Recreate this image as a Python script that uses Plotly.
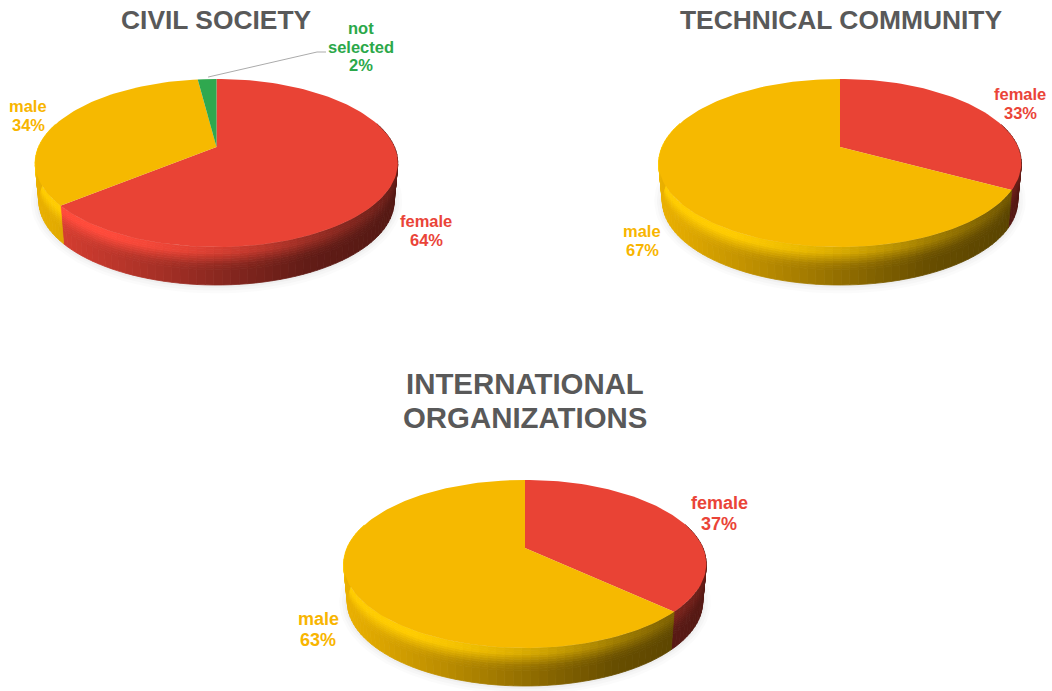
import numpy as np
import plotly.graph_objects as go

# ---- data ----
civil_labels = ["female", "male", "not selected"]
civil_values = [64, 34, 2]
technical_labels = ["female", "male"]
technical_values = [33, 67]
international_labels = ["female", "male"]
international_values = [37, 63]

# ---- styles / layout ----
W, H = 1052, 691
COLORS = {"female": "#E94335", "male": "#F6B900", "not selected": "#2FA84F"}
TEXT = {"female": "#EA4438", "male": "#F8B500", "not selected": "#2BA84A"}
TITLE_COLOR = "#595959"
A, B, K = 178.0, 81.0, 0.19   # perspective disc parameters
DEPTH = 38.0
N_STRIP = 160

pies = [
    dict(labels=civil_labels, values=civil_values, c=(216.5, 147),
         title=[("CIVIL SOCIETY", 216.5, 20, 26.4)],
         text={"not selected": (361, 28, 18.6, 16.5), "male": (28, 106, 19, 16.5), "female": (426, 221, 19, 16.5)}),
    dict(labels=technical_labels, values=technical_values, c=(840, 147),
         title=[("TECHNICAL COMMUNITY", 840.5, 20, 26.4)],
         text={"female": (1020, 94, 19, 16.5), "male": (642, 231, 19, 16.5)}),
    dict(labels=international_labels, values=international_values, c=(525, 548),
         title=[("INTERNATIONAL", 525, 383, 29.4), ("ORGANIZATIONS", 525, 417, 29.4)],
         text={"female": (719, 503, 20.5, 18), "male": (318, 619, 20.5, 18)}),
]


def project(c, theta, r=1.0, depth=0.0):
    """Clockwise angle from top on the disc -> picture position."""
    u, v = r * np.sin(theta), -r * np.cos(theta)
    w = 1 - K * v
    sc = 1 - 0.02 * depth / DEPTH
    return c[0] + sc * A * u / w, c[1] + B * v / w + depth


def hex_rgb(h):
    return np.array([int(h[i:i + 2], 16) for i in (1, 3, 5)], float)


def css(rgb):
    r = np.clip(np.round(rgb), 0, 255).astype(int)
    return f"rgb({r[0]},{r[1]},{r[2]})"


def shade(xn):
    return np.interp(xn, [0, .08, .3, .55, .75, 1], [.95, .9, .74, .56, .42, .36])


fig = go.Figure()


def poly(xs, ys, color, line=0.8):
    fig.add_trace(go.Scatter(x=list(xs), y=list(ys), mode="lines", fill="toself",
                             fillcolor=color, line=dict(color=color, width=line),
                             hoverinfo="skip", showlegend=False))


# vertical profile of the side wall: depth fractions and highlight strength
LAYERS = np.r_[np.linspace(0, .6, 11), 1]
GLOW = np.interp((LAYERS[:-1] + LAYERS[1:]) / 2, [0, .14, .3, .45, .6], [1, 1, .55, .15, 0])

for p in pies:
    c = p["c"]
    # soft shadow under the disc
    th = np.linspace(0, 2 * np.pi, 120)
    for grow, alpha in [(9, .03), (6, .04), (3, .05)]:
        x, y = project(c, th, 1, DEPTH)
        cy = (y.max() + y.min()) / 2
        poly(c[0] + (x - c[0]) * (1 + grow / 200), cy + (y - cy) * (1 + grow / 90),
             f"rgba(120,120,120,{alpha})", 0)

    fractions = np.cumsum([0] + p["values"]) / sum(p["values"])
    # side wall, from the bottom layer up so each strip's outline stays hidden
    for i, lab in enumerate(p["labels"]):
        t0, t1 = 2 * np.pi * fractions[i], 2 * np.pi * fractions[i + 1]
        base = hex_rgb(COLORS[lab])
        edges = np.linspace(t0, t1, max(2, int(N_STRIP * (t1 - t0) / (2 * np.pi)) + 1))
        for a0, a1 in zip(edges[:-1], edges[1:]):
            if np.cos((a0 + a1) / 2) > 0.3:
                continue
            xm = project(c, (a0 + a1) / 2)[0]
            xn = (xm - (c[0] - 181)) / 362
            wall = base * shade(xn)
            for j in reversed(range(len(GLOW))):
                d0, d1 = LAYERS[j] * DEPTH, LAYERS[j + 1] * DEPTH
                g = GLOW[j] * np.clip(1.2 - xn * 1.1, 0.1, 1)
                col = wall + (np.minimum(base * 1.1, 255) - wall) * g
                x0, y0 = project(c, a0, 1, d0)
                x1, y1 = project(c, a1, 1, d0)
                x2, y2 = project(c, a1, 1, d1)
                x3, y3 = project(c, a0, 1, d1)
                poly([x0, x1, x2, x3, x0], [y0, y1, y2, y3, y0], css(col))

    # top face
    for i, lab in enumerate(p["labels"]):
        t0, t1 = 2 * np.pi * fractions[i], 2 * np.pi * fractions[i + 1]
        th = np.linspace(t0, t1, max(3, int(200 * (t1 - t0) / (2 * np.pi))))
        x, y = project(c, th)
        poly(np.r_[c[0], x, c[0]], np.r_[c[1], y, c[1]], COLORS[lab], 0)

    # title text
    for txt, x, y, size in p["title"]:
        fig.add_annotation(x=x, y=y, text=f"<b>{txt}</b>", showarrow=False, xref="x", yref="y",
                           xanchor="center", yanchor="middle",
                           font=dict(family="Liberation Sans", size=size, color=TITLE_COLOR))

    # data labels, one line at a time for the tight spacing
    for lab, val in zip(p["labels"], p["values"]):
        x, y, dy, size = p["text"][lab]
        for n, line in enumerate(lab.split(" ") + [f"{val}%"]):
            fig.add_annotation(x=x, y=y + n * dy, text=f"<b>{line}</b>", showarrow=False,
                               xref="x", yref="y", xanchor="center", yanchor="middle",
                               font=dict(family="Liberation Sans", size=size, color=TEXT[lab]))

# leader line for the "not selected" slice of the civil society pie
f = np.cumsum([0] + civil_values) / sum(civil_values)
mid = np.pi * (f[2] + f[3])
lx, ly = project(pies[0]["c"], mid, 1.0)
fig.add_trace(go.Scatter(x=[lx + 1, 317, 326], y=[ly - 2, 52, 52], mode="lines",
                         line=dict(color="#ABABAB", width=1), hoverinfo="skip", showlegend=False))

fig.update_layout(
    width=W, height=H, margin=dict(l=0, r=0, t=0, b=0), autosize=False,
    paper_bgcolor="white", plot_bgcolor="white", showlegend=False,
    xaxis=dict(range=[0, W], visible=False, fixedrange=True),
    yaxis=dict(range=[H, 0], visible=False, fixedrange=True),
)
fig.write_html("out.html", config={"displayModeBar": False},
               post_script="document.body.style.margin='0';document.body.style.overflow='hidden';")
